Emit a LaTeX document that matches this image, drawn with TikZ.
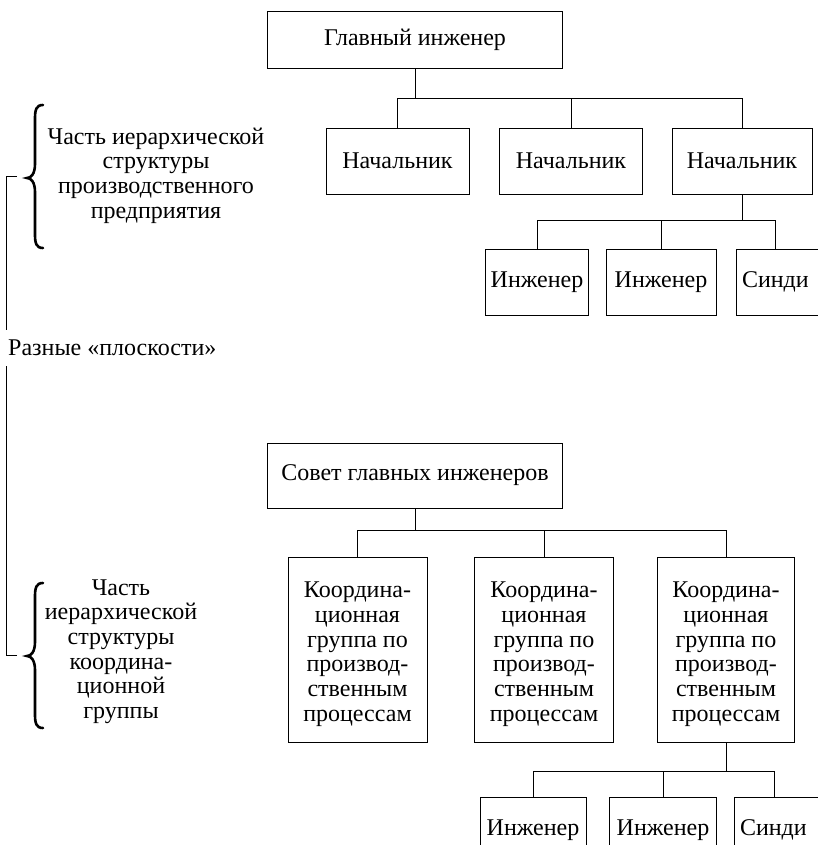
\documentclass[tikz,border=0pt]{standalone}
\usepackage{fontspec}
\setmainfont{Liberation Serif}
\newcommand\bookbrace[3]{%
  \draw[line width=2.6pt, line cap=round]
    (43,#1) .. controls (36,#1) and (35,#1+5) .. (35,#1+14)
    -- (35,#3-14) .. controls (35,#3-4) and (31,#3) .. (27,#3)
    .. controls (31,#3) and (35,#3+4) .. (35,#3+14)
    -- (35,#2-14) .. controls (35,#2-5) and (36,#2) .. (43,#2);}
\newcommand\coordtext{\rule{0pt}{25pt}Координа-\\ционная\\группа по\\производ-\\ственным\\процессам}
\begin{document}
\begin{tikzpicture}[x=1pt,y=-1pt,
  every node/.style={font=\fontsize{24}{24.7}\selectfont, inner sep=0pt},
  box/.style={draw, line width=0.9pt, align=center},
  wire/.style={line width=0.8pt}]
\useasboundingbox (0,0) rectangle (818,845);
\clip (0,0) rectangle (818,845);

% ---- upper hierarchy
\node[box, minimum width=295, minimum height=57] (gl) at (415,39.5) {Главный инженер};
\node[box, minimum width=143, minimum height=66] (n1) at (397.5,161) {Начальник};
\node[box, minimum width=143, minimum height=66] (n2) at (571,161) {Начальник};
\node[box, minimum width=140, minimum height=66] (n3) at (742,161) {Начальник};
\node[box, minimum width=103, minimum height=66] (i1) at (537,282) {Инженер};
\node[box, minimum width=110, minimum height=66] (i2) at (661,282) {Инженер};
\node[box, minimum width=92, minimum height=66, text width=80, align=left] (s1) at (782,282) {Синди};
\coordinate (s1k) at ([xshift=40pt]s1.north west);

\coordinate (fa) at (0,98);
\coordinate (fb) at (0,220);
\draw[wire] (gl.south) -- (gl.south |- fa);
\draw[wire] (n1.north) |- (fa -| n3.north) -- (n3.north);
\draw[wire] (n2.north) -- (n2.north |- fa);
\draw[wire] (n3.south) -- (n3.south |- fb);
\draw[wire] (i1.north) |- (fb -| s1k) -- (s1k);
\draw[wire] (i2.north) -- (i2.north |- fb);

% ---- lower hierarchy
\node[box, minimum width=295, minimum height=65] (sov) at (415,475.5) {Совет главных инженеров};
\node[box, minimum width=139, minimum height=185] (k1) at (357.5,649.5) {\coordtext};
\node[box, minimum width=139, minimum height=185] (k2) at (544,649.5) {\coordtext};
\node[box, minimum width=137, minimum height=185] (k3) at (726,649.5) {\coordtext};
\node[box, minimum width=106, minimum height=66] (j1) at (533,830) {Инженер};
\node[box, minimum width=107, minimum height=66] (j2) at (663,830) {Инженер};
\node[box, minimum width=92, minimum height=66, text width=80, align=left] (s2) at (780,830) {Синди};
\coordinate (s2k) at ([xshift=41pt]s2.north west);

\coordinate (fc) at (0,530);
\coordinate (fd) at (0,771);
\draw[wire] (sov.south) -- (sov.south |- fc);
\draw[wire] (k1.north) |- (fc -| k3.north) -- (k3.north);
\draw[wire] (k2.north) -- (k2.north |- fc);
\draw[wire] (k3.south) -- (k3.south |- fd);
\draw[wire] (j1.north) |- (fd -| s2k) -- (s2k);
\draw[wire] (j2.north) -- (j2.north |- fd);

% ---- left annotations
\node[align=center] (t1) at (156,175.5)
  {Часть иерархической\\структуры\\производственного\\предприятия};
\node[anchor=west] (raz) at (8,348) {Разные «плоскости»};
\node[align=center] (t2) at (121,651.5)
  {Часть\\иерархической\\структуры\\координа-\\ционной\\группы};

\bookbrace{105}{248}{178}
\bookbrace{583}{728}{656}

\coordinate (ca) at (17,176);
\coordinate (cb) at (17,655);
\draw[wire] (ca) -- ++(-11,0) -- ++(0,154);
\draw[wire] (cb) -- ++(-11,0) -- ++(0,-289);
\end{tikzpicture}
\end{document}
